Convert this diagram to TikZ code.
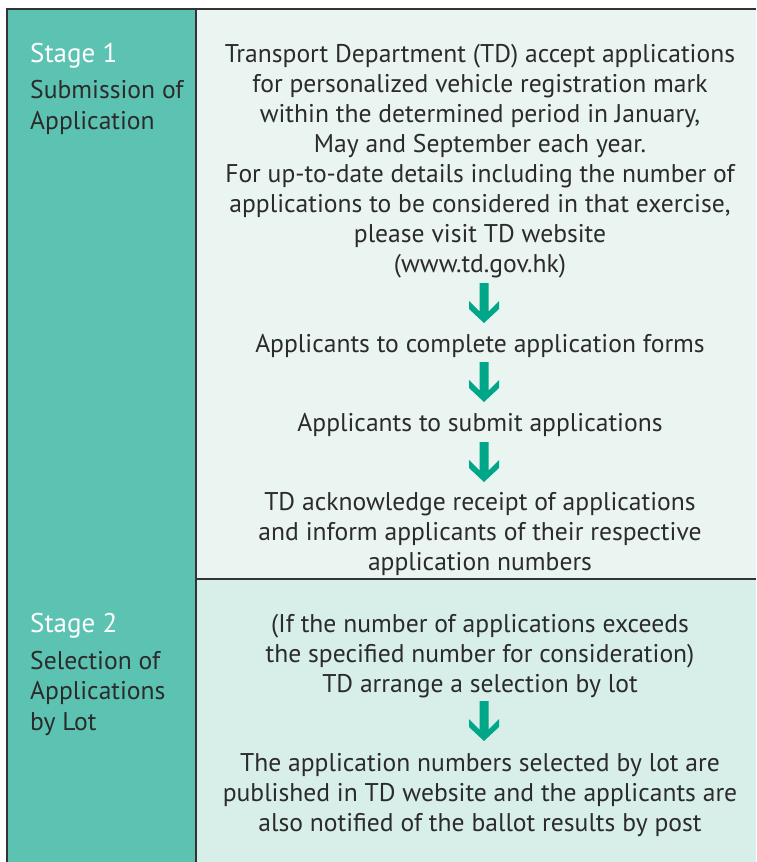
\documentclass[tikz,border=0pt]{standalone}
\usepackage{fontspec}
\setmainfont{PT Sans}
\definecolor{stageteal}{HTML}{5CC3B3}
\definecolor{paleone}{HTML}{EAF4F1}
\definecolor{paletwo}{HTML}{D8EEE8}
\definecolor{arrowteal}{HTML}{00A688}
\definecolor{inkgray}{HTML}{2B2B2B}
\definecolor{rulegray}{HTML}{333333}

% one down arrow, tip at the given coordinate
\newcommand{\flowarrow}[1]{%
  \fill[arrowteal, shift={(#1)}] (-4.5,-40) -- (4.5,-40) -- (4.5,-11.5) -- (15,-22) -- (15,-14)
    -- (0,0) -- (-15,-14) -- (-15,-22) -- (-4.5,-11.5) -- cycle;}

\begin{document}
\begin{tikzpicture}[x=1pt, y=-1pt,
    body/.style={anchor=base, align=center, inner sep=0pt, text=inkgray,
      font=\fontsize{25.6}{30}\selectfont},
    stagehead/.style={anchor=base west, inner sep=0pt, text=white,
      font=\fontsize{27}{30}\selectfont},
    stagename/.style={anchor=base west, align=left, inner sep=0pt, text=inkgray,
      font=\fontsize{25.6}{30.5}\selectfont},
    rule/.style={rulegray, line width=1.5pt}]
  \useasboundingbox (0,0) rectangle (756,862);

  % panels
  \fill[stageteal] (7,9) rectangle (196,862);
  \fill[paleone] (196,9) rectangle (756,579);
  \fill[paletwo] (196,579) rectangle (756,862);
  \draw[rule] (7,862) -- (7,9) -- (756,9);
  \draw[rule] (196,9) -- (196,862);
  \draw[rule] (196,579) -- (756,579);

  % stage 1 (multi-line nodes sit on their last baseline)
  \node[stagehead] (s1head) at (30,62) {Stage 1};
  \node[stagename] (s1name) at (30,129) {Submission of\\Application};

  \node[body] (intro) at (480,272) {Transport Department (TD) accept applications\\
    for personalized vehicle registration mark\\
    within the determined period in January,\\
    May and September each year.\\
    For up-to-date details including the number of\\
    applications to be considered in that exercise,\\
    please visit TD website\\
    (www.td.gov.hk)};
  \node[body] (complete) at (480,352) {Applicants to complete application forms};
  \node[body] (submit) at (480,431) {Applicants to submit applications};
  \node[body] (receipt) at (480,570) {TD acknowledge receipt of applications\\
    and inform applicants of their respective\\
    application numbers};

  % stage 2
  \node[stagehead] (s2head) at (30,632) {Stage 2};
  \node[stagename] (s2name) at (30,730) {Selection of\\Applications\\by Lot};

  \node[body] (ballot) at (480,692) {(If the number of applications exceeds\\
    the specified number for consideration)\\
    TD arrange a selection by lot};
  \node[body] (result) at (480,831) {The application numbers selected by lot are\\
    published in TD website and the applicants are\\
    also notified of the ballot results by post};

  % arrows
  \coordinate (a1) at (484,323);
  \coordinate (a2) at (484,402);
  \coordinate (a3) at (484,482);
  \coordinate (a4) at (484,741);
  \flowarrow{a1}
  \flowarrow{a2}
  \flowarrow{a3}
  \flowarrow{a4}
\end{tikzpicture}
\end{document}
